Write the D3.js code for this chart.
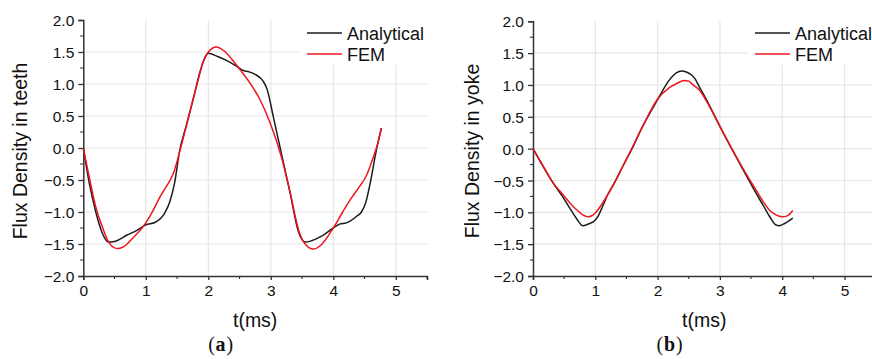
<!DOCTYPE html>
<html>
<head>
<meta charset="utf-8">
<script src="https://cdn.jsdelivr.net/npm/d3@7"></script>
<style>
  body { margin: 0; background: #fff; }
  svg { display: block; font-family: "Liberation Sans", Arial, sans-serif; }
</style>
</head>
<body>
<svg id="chart" width="872" height="359"></svg>
<script>
// flux density in teeth, panel (a)
var tTeethA = [0, 0.1, 0.2, 0.3, 0.4, 0.5, 0.7, 0.85, 1.0, 1.15, 1.3, 1.38, 1.46, 1.54, 1.65, 1.76, 1.87, 1.95, 2.0, 2.15, 2.29, 2.45, 2.56, 2.65, 2.75, 2.88, 2.94, 3.04, 3.15, 3.31, 3.44, 3.55, 3.65, 3.79, 4.0, 4.1, 4.21, 4.37, 4.45, 4.52, 4.59, 4.69, 4.77];
var vTeethA = [0, -0.57, -1.0, -1.32, -1.47, -1.46, -1.36, -1.29, -1.2, -1.16, -1.02, -0.85, -0.55, -0.05, 0.36, 0.77, 1.2, 1.42, 1.48, 1.43, 1.37, 1.28, 1.21, 1.19, 1.15, 1.04, 0.92, 0.49, 0.0, -0.71, -1.3, -1.47, -1.45, -1.39, -1.25, -1.19, -1.17, -1.07, -1.0, -0.85, -0.55, -0.03, 0.31];
var tTeethF = [0, 0.1, 0.2, 0.3, 0.4, 0.5, 0.56, 0.65, 0.8, 1.0, 1.12, 1.23, 1.33, 1.44, 1.55, 1.65, 1.81, 1.92, 2.0, 2.13, 2.25, 2.4, 2.51, 2.67, 2.83, 2.99, 3.17, 3.3, 3.45, 3.55, 3.68, 3.8, 4.0, 4.15, 4.27, 4.4, 4.53, 4.62, 4.69, 4.77];
var vTeethF = [0, -0.48, -0.92, -1.22, -1.46, -1.56, -1.57, -1.54, -1.4, -1.17, -0.97, -0.76, -0.6, -0.4, -0.03, 0.35, 0.96, 1.35, 1.5, 1.58, 1.52, 1.36, 1.22, 1.01, 0.75, 0.39, -0.14, -0.65, -1.3, -1.5, -1.58, -1.52, -1.25, -1.0, -0.81, -0.63, -0.43, -0.2, 0.0, 0.31];

// flux density in yoke, panel (b)
var tYokeA = [0, 0.15, 0.33, 0.48, 0.6, 0.7, 0.8, 0.9, 1.0, 1.05, 1.12, 1.2, 1.3, 1.44, 1.6, 1.76, 2.0, 2.19, 2.3, 2.38, 2.47, 2.54, 2.6, 2.67, 2.8, 3.0, 3.26, 3.4, 3.58, 3.7, 3.8, 3.9, 3.95, 4.01, 4.17];
var vYokeA = [0, -0.26, -0.55, -0.76, -0.95, -1.1, -1.21, -1.18, -1.12, -1.05, -0.9, -0.72, -0.55, -0.28, 0.02, 0.35, 0.77, 1.08, 1.19, 1.22, 1.2, 1.16, 1.1, 0.97, 0.74, 0.35, -0.13, -0.38, -0.7, -0.9, -1.07, -1.2, -1.21, -1.19, -1.09];
var tYokeF = [0, 0.15, 0.33, 0.48, 0.6, 0.7, 0.8, 0.88, 0.95, 1.0, 1.12, 1.3, 1.44, 1.6, 1.76, 2.0, 2.19, 2.3, 2.43, 2.5, 2.56, 2.67, 2.8, 3.0, 3.26, 3.4, 3.58, 3.7, 3.8, 3.9, 4.0, 4.07, 4.17];
var vYokeF = [0, -0.25, -0.55, -0.72, -0.86, -0.96, -1.04, -1.07, -1.05, -1.01, -0.85, -0.55, -0.28, 0.03, 0.35, 0.78, 0.96, 1.02, 1.07, 1.06, 1.01, 0.92, 0.72, 0.35, -0.12, -0.36, -0.65, -0.84, -0.97, -1.04, -1.07, -1.06, -0.97];

var seriesNames = ["Analytical", "FEM"];
var seriesColors = ["#1c1c1c", "#f0141e"];
var xTicks = [0, 1, 2, 3, 4, 5];
var yTicks = [-2.0, -1.5, -1.0, -0.5, 0.0, 0.5, 1.0, 1.5, 2.0];

var svg = d3.select("#chart");

function zip(ts, vs) {
  return ts.map(function(t, i) { return { t: t, v: vs[i] }; });
}

function panel(opt) {
  var x = d3.scaleLinear().domain([0, 5.5]).range([opt.left, opt.left + 5.5 * opt.xu]);
  var y = d3.scaleLinear().domain([-2, 2]).range([276, opt.top]);
  var g = svg.append("g");

  // grid
  g.selectAll(".gx").data(xTicks.slice(1)).enter().append("line")
    .attr("x1", d => x(d)).attr("x2", d => x(d))
    .attr("y1", y(2)).attr("y2", y(-2))
    .attr("stroke", "#e6e6e6").attr("stroke-width", 1.2);
  g.selectAll(".gy").data(yTicks.slice(1, -1)).enter().append("line")
    .attr("x1", x(0)).attr("x2", x(5.5))
    .attr("y1", d => y(d)).attr("y2", d => y(d))
    .attr("stroke", "#e6e6e6").attr("stroke-width", 1.2);

  // legend background hides the grid
  g.append("rect")
    .attr("x", opt.legX - 8).attr("y", 0)
    .attr("width", 872 - opt.legX + 8).attr("height", 65)
    .attr("fill", "#fff");

  // axes
  var yAxis = d3.axisLeft(y).tickValues(yTicks).tickFormat(d3.format(".1f")).tickSize(5).tickPadding(4);
  var ya = g.append("g").attr("transform", "translate(" + x(0) + ",0)").call(yAxis);
  var xAxis = d3.axisBottom(x).tickValues(xTicks).tickFormat(d3.format("d")).tickSize(4).tickPadding(5);
  var xa = g.append("g").attr("transform", "translate(0," + y(-2) + ")").call(xAxis);
  [ya, xa].forEach(function(a) {
    a.select(".domain").attr("stroke", "#333").attr("stroke-width", 1.5);
    a.selectAll(".tick line").attr("stroke", "#333").attr("stroke-width", 1.3);
    a.selectAll(".tick text").attr("fill", "#111").style("font-size", "15.5px")
      .style("font-family", "Liberation Sans, Arial, sans-serif");
  });
  ya.selectAll(".tick text").attr("dy", "0.36em");

  // minor ticks
  g.selectAll(".my").data(d3.range(-1.75, 2, 0.5)).enter().append("line")
    .attr("x1", x(0) - 3).attr("x2", x(0))
    .attr("y1", d => y(d)).attr("y2", d => y(d))
    .attr("stroke", "#333").attr("stroke-width", 1.1);
  g.selectAll(".mx").data([0.5, 1.5, 2.5, 3.5, 4.5, 5.5]).enter().append("line")
    .attr("x1", d => x(d)).attr("x2", d => x(d))
    .attr("y1", y(-2)).attr("y2", y(-2) + 3)
    .attr("stroke", "#333").attr("stroke-width", 1.1);

  // curves
  var line = d3.line().x(d => x(d.t)).y(d => y(d.v)).curve(d3.curveMonotoneX);
  opt.series.forEach(function(s, i) {
    g.append("path").datum(s)
      .attr("d", line)
      .attr("fill", "none")
      .attr("stroke", seriesColors[i])
      .attr("stroke-width", 1.5)
      .attr("stroke-linejoin", "round");
  });

  // legend
  seriesNames.forEach(function(n, i) {
    var ly = 33 + i * 21;
    g.append("line")
      .attr("x1", opt.legX).attr("x2", opt.legX + 35)
      .attr("y1", ly).attr("y2", ly)
      .attr("stroke", seriesColors[i]).attr("stroke-width", 1.5);
    g.append("text")
      .attr("x", opt.legX + 40).attr("y", ly + 6.5)
      .style("font-size", "18px").attr("fill", "#111")
      .text(n);
  });

  // titles
  g.append("text")
    .attr("transform", "translate(" + opt.yTitleX + ",151) rotate(-90)")
    .attr("text-anchor", "middle")
    .style("font-size", "19.5px").attr("fill", "#111")
    .text(opt.yTitle);
  g.append("text")
    .attr("x", x(2.75)).attr("y", 327)
    .attr("text-anchor", "middle")
    .style("font-size", "19.5px").attr("fill", "#111")
    .text("t(ms)");
  g.append("text")
    .attr("x", opt.capX).attr("y", 351)
    .attr("text-anchor", "middle")
    .style("font-family", "Liberation Serif, Times New Roman, serif")
    .style("font-size", "20px").style("letter-spacing", "0.8px").attr("fill", "#111")
    .html("(<tspan font-weight='bold'>" + opt.cap + "</tspan>)");
}

panel({
  left: 83.3, xu: 62.5, top: 20,
  legX: 307, yTitleX: 27, yTitle: "Flux Density in teeth",
  capX: 221, cap: "a",
  series: [zip(tTeethA, vTeethA), zip(tTeethF, vTeethF)]
});
panel({
  left: 533, xu: 62.3, top: 21.3,
  legX: 755, yTitleX: 478.5, yTitle: "Flux Density in yoke",
  capX: 670, cap: "b",
  series: [zip(tYokeA, vYokeA), zip(tYokeF, vYokeF)]
});
</script>
</body>
</html>
